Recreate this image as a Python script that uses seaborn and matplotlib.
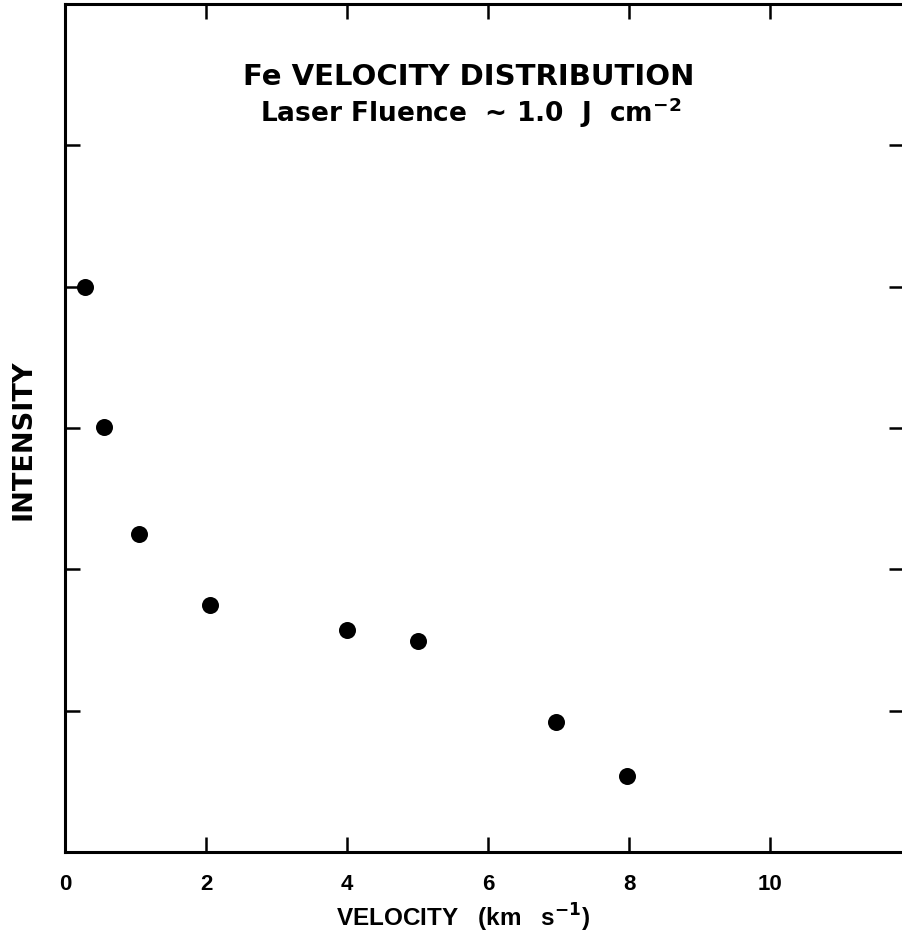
import matplotlib
matplotlib.use("Agg")
import matplotlib.pyplot as plt
import seaborn as sns
import pandas as pd

# ---- data ----
velocity = [0.28, 0.55, 1.05, 2.05, 4.0, 5.0, 6.97, 7.97]
intensity = [4.0, 3.01, 2.25, 1.75, 1.57, 1.49, 0.92, 0.54]
x_ticks = [0, 2, 4, 6, 8, 10]
x_tick_labels = ["0", "2", "4", "6", "8", "10"]
y_ticks = [1, 2, 3, 4, 5]

title_text = "Fe VELOCITY DISTRIBUTION"
subtitle_text = r"Laser Fluence  ~ 1.0  J  cm$^{-2}$"
xlabel_text = r"VELOCITY   (km   s$^{-1}$)"
ylabel_text = "INTENSITY"

sns.set_theme(style="ticks")
plt.rcParams["font.family"] = ["DejaVu Sans"]
plt.rcParams["font.weight"] = "bold"
plt.rcParams["mathtext.fontset"] = "custom"
plt.rcParams["mathtext.rm"] = "DejaVu Sans:bold"
plt.rcParams["mathtext.bf"] = "DejaVu Sans:bold"
plt.rcParams["mathtext.default"] = "bf"

df = pd.DataFrame({"velocity": velocity, "intensity": intensity})

W, H = 902, 944
fig = plt.figure(figsize=(W / 100, H / 100), dpi=100)
fig.patch.set_facecolor("white")
ax = fig.add_axes([65 / W, 92 / H, 839 / W, 848 / H])
ax.set_facecolor("white")

sns.scatterplot(data=df, x="velocity", y="intensity", ax=ax, color="black",
                s=150, linewidth=0, legend=False, zorder=3)

ax.set_xlim(0, 11.9)
ax.set_ylim(0, 6)
ax.set_xticks(x_ticks)
ax.set_xticklabels(x_tick_labels)
ax.set_yticks(y_ticks)
ax.tick_params(direction="in", length=11, width=1.8, color="black",
               top=True, right=True, bottom=True, left=True,
               labelleft=False, labelright=False, labeltop=False,
               pad=16, labelsize=16, labelcolor="black")
for lab in ax.get_xticklabels():
    lab.set_fontfamily(["Liberation Sans", "DejaVu Sans"])
    lab.set_fontweight("bold")
ax.grid(False)
for sp in ax.spines.values():
    sp.set_linewidth(2.2)
    sp.set_color("black")

ax.set_xlabel(xlabel_text, fontsize=17.5, fontweight="bold", color="black",
              family=["Liberation Sans", "DejaVu Sans"])
ax.xaxis.set_label_coords(0.474, -0.0885)
ax.xaxis.label.set_verticalalignment("baseline")

ax.set_ylabel(ylabel_text, fontsize=19.5, fontweight="bold", color="black")
ax.yaxis.set_label_coords(-0.050, 0.486)
ax.yaxis.label.set_verticalalignment("center")

ax.text(0.481, 0.9045, title_text, transform=ax.transAxes, ha="center",
        va="baseline", fontsize=21, fontweight="bold", color="black")
ax.text(0.484, 0.861, subtitle_text, transform=ax.transAxes, ha="center",
        va="baseline", fontsize=19, fontweight="bold", color="black")

fig.savefig("out.png", dpi=100, facecolor="white")
